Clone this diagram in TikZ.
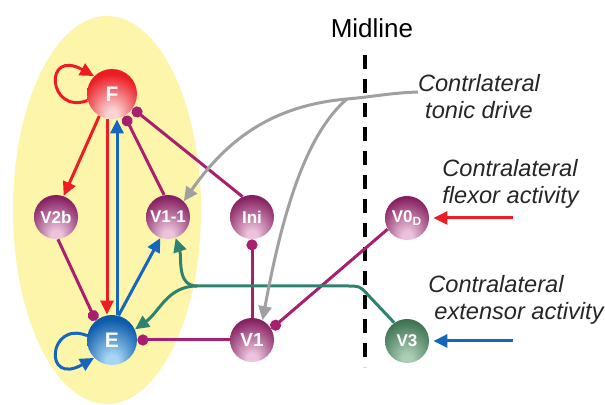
\documentclass[tikz,border=0pt]{standalone}
\usepackage{fontspec}
\setmainfont{Liberation Sans}
\usetikzlibrary{arrows.meta}

\definecolor{bgyellow}{HTML}{FDF5AA}
\definecolor{purpdark}{HTML}{861F60}
\definecolor{purplite}{HTML}{EBC3DC}
\definecolor{reddark}{HTML}{EC1C24}
\definecolor{redlite}{HTML}{FAD2D2}
\definecolor{bluedark}{HTML}{0D5CAA}
\definecolor{bluelite}{HTML}{A6D6F6}
\definecolor{greendark}{HTML}{3E7352}
\definecolor{greenlite}{HTML}{AACDB4}
\definecolor{inhline}{HTML}{A81F70}
\definecolor{excred}{HTML}{EE1C25}
\definecolor{excblue}{HTML}{1566BC}
\definecolor{excgreen}{HTML}{2F8170}
\definecolor{drivegray}{HTML}{A0A0A2}

\pgfdeclareradialshading{purpball}{\pgfpoint{0bp}{-24bp}}{color(0bp)=(purplite); color(6bp)=(purplite); color(32bp)=(purpdark); color(50bp)=(purpdark)}
\pgfdeclareradialshading{redball}{\pgfpoint{0bp}{-24bp}}{color(0bp)=(redlite); color(6bp)=(redlite); color(30bp)=(reddark); color(50bp)=(reddark)}
\pgfdeclareradialshading{blueball}{\pgfpoint{0bp}{-24bp}}{color(0bp)=(bluelite); color(6bp)=(bluelite); color(30bp)=(bluedark); color(50bp)=(bluedark)}
\pgfdeclareradialshading{greenball}{\pgfpoint{0bp}{-24bp}}{color(0bp)=(greenlite); color(6bp)=(greenlite); color(32bp)=(greendark); color(50bp)=(greendark)}

\begin{document}
\begin{tikzpicture}[x=0.5pt,y=0.5pt,
    cell/.style={circle,minimum size=22pt,inner sep=0pt,text=white,
      font=\bfseries\fontsize{8.5}{9}\selectfont},
    purpcell/.style={cell,shading=purpball},
    greencell/.style={cell,shading=greenball},
    bigcell/.style={cell,minimum size=25pt,font=\bfseries\fontsize{10.5}{11}\selectfont},
    exc/.style={line width=1.5pt,-{Triangle[length=7pt,width=6.5pt]}},
    inh/.style={line width=1.5pt,draw=inhline,-{Circle[length=5.5pt]},inhline},
    lbl/.style={inner sep=0pt,font=\itshape\fontsize{11.8}{13.5}\selectfont,text=black!85}]
  \useasboundingbox (0,0) rectangle (605,405);

  % half centre
  \fill[bgyellow] (107,195) ellipse [x radius=94, y radius=194];

  % midline
  \coordinate (midtop) at (365,350);
  \coordinate (midbot) at (365,38);
  \draw[line width=1.8pt,dash pattern=on 7pt off 5pt] (midtop) -- (midbot);
  \node (midlbl) at (372,377) {\fontsize{13}{15}\selectfont Midline};

  % cells
  \node[bigcell,shading=redball] (F) at (112,311) {F};
  \node[bigcell,shading=blueball] (E) at (112,65) {E};
  \node[purpcell] (V2b) at (56,188) {V2b};
  \node[purpcell] (V11) at (168,188) {V1-1};
  \node[purpcell] (Ini) at (252,188) {Ini};
  \node[purpcell,font=\bfseries\fontsize{9.5}{10}\selectfont] (V1) at (252,65) {V1};
  \node[purpcell] (V0D) at (407,187) {V0\textsubscript{D}};
  \node[greencell] (V3) at (407,64) {V3};

  % labels
  \node[lbl,align=center] (tonic) at (479,308) {Contrlateral\\tonic drive};
  \node[lbl,align=left,anchor=west] (flexor) at (442,221) {Contralateral\\flexor activity};
  \node[lbl,align=left,anchor=west] (extensor) at (428,105) {Contralateral\\\hspace*{3pt}extensor activity};
  \coordinate (flexin) at (513,187);
  \coordinate (extin) at (513,64);

  % flexor side
  \draw[exc,excred] (F.195) .. controls (48,290) and (43,357) .. (F.135);
  \draw[exc,excred] (F.240) -- (V2b.70);
  \draw[exc,excred] ([xshift=-2.5pt]F.south) -- ([xshift=-2.5pt]E.north);

  % extensor side
  \draw[exc,excblue] (E.170) .. controls (48,85) and (43,18) .. (E.225);
  \draw[exc,excblue] ([xshift=2.5pt]E.north) -- ([xshift=2.5pt]F.south);
  \draw[exc,excblue] (E.75) -- (V11.250);

  % inhibition
  \draw[inh] (V11.100) -- (F.300);
  \draw[inh] (Ini.115) -- (F.325);
  \draw[inh] (V2b.275) -- (E.130);
  \draw[inh] (V1.west) -- (E.east);
  \draw[inh] (V1.north) -- (Ini.south);
  \draw[inh] (V0D.210) -- (V1.30);

  % commissural
  \coordinate (esplit) at (197,119);
  \draw[line width=1.5pt,excgreen] (V3.125) -- (368,110) .. controls (360,119) .. (345,119) -- (esplit);
  \draw[exc,excgreen] (esplit) to[out=180,in=-72] (V11.290);
  \draw[exc,excgreen] (esplit) to[out=180,in=35] (E.25);

  % tonic drive
  \coordinate (drive) at (418,313);
  \coordinate (tsplit) at (347,306);
  \draw[exc,drivegray] (drive) to[out=182,in=5] (tsplit) to[out=185,in=55] (V11.45);
  \draw[exc,drivegray] (tsplit) .. controls (305,270) and (282,190) .. (V1.62);

  % contralateral input
  \draw[exc,excred,shorten >=2pt] (flexin) -- (V0D.east);
  \draw[exc,excblue,shorten >=2pt] (extin) -- (V3.east);
\end{tikzpicture}
\end{document}
